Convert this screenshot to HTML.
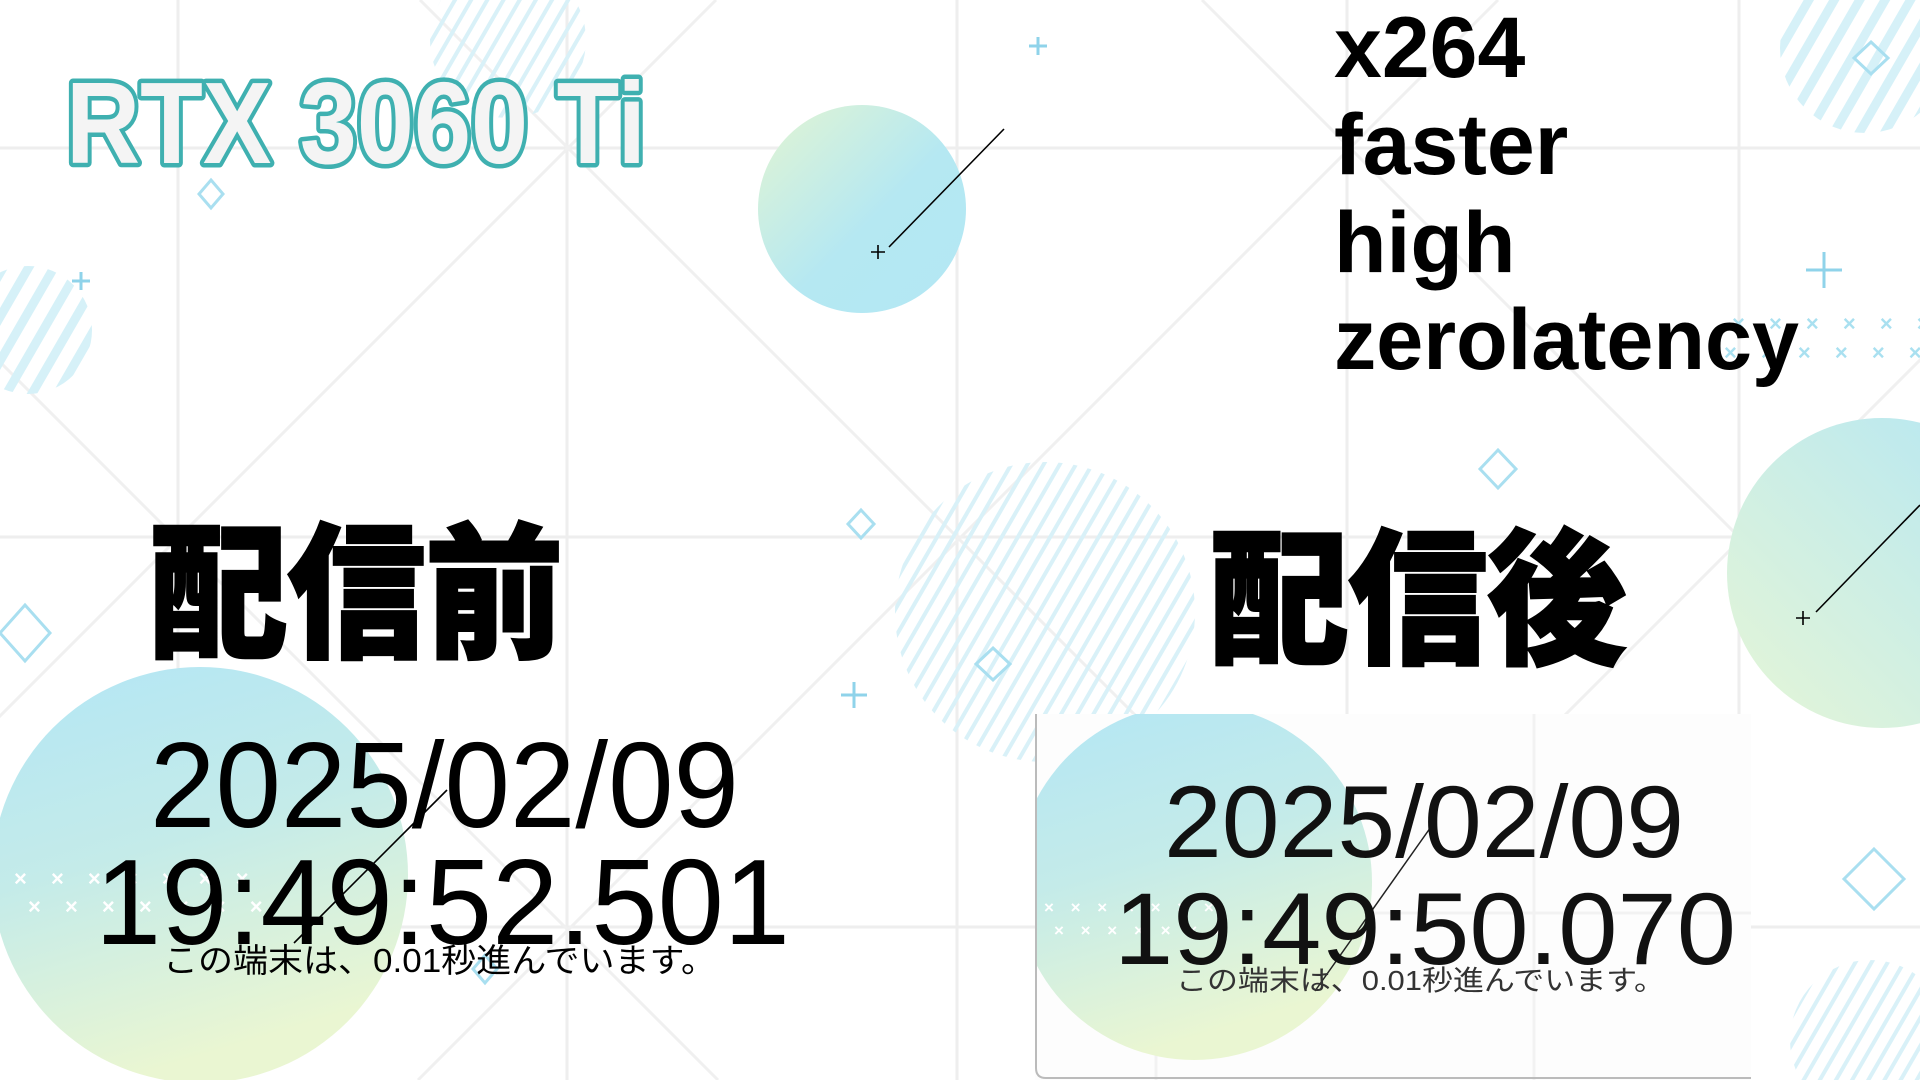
<!DOCTYPE html>
<html><head><meta charset="utf-8"><style>
html,body{margin:0;padding:0;background:#fff;width:1920px;height:1080px;overflow:hidden}
svg{display:block}
</style></head><body>
<svg width="1920" height="1080" viewBox="0 0 1920 1080">
<defs>
<linearGradient id="g1" x1="0" y1="0" x2="1" y2="1"><stop offset="0" stop-color="#e3f5d2"/><stop offset="0.55" stop-color="#b5e8f2"/><stop offset="1" stop-color="#b3e7f4"/></linearGradient>
<linearGradient id="g2" x1="0" y1="0" x2="0.3" y2="1"><stop offset="0" stop-color="#b3e6f5"/><stop offset="0.5" stop-color="#c4ebe9"/><stop offset="1" stop-color="#eaf6d2"/></linearGradient>
<linearGradient id="g3" x1="1" y1="0" x2="0" y2="1"><stop offset="0" stop-color="#b3e6f4"/><stop offset="1" stop-color="#e6f6d6"/></linearGradient>
<pattern id="hatch" width="22" height="22" patternUnits="userSpaceOnUse" patternTransform="rotate(30)"><rect width="9" height="22" fill="#d6f1f8"/></pattern>
<pattern id="hatch2" width="14" height="14" patternUnits="userSpaceOnUse" patternTransform="rotate(30)"><rect width="4" height="14" fill="#d9f1f8"/></pattern>
<clipPath id="panelclip"><rect x="1035" y="714" width="716" height="366"/></clipPath>
</defs>
<rect width="1920" height="1080" fill="#fff"/>
<g stroke="#eeeeee" stroke-width="3">
<line x1="178" y1="0" x2="178" y2="1080"/><line x1="567" y1="0" x2="567" y2="1080"/><line x1="957" y1="0" x2="957" y2="1080"/><line x1="1347" y1="0" x2="1347" y2="1080"/><line x1="1739" y1="0" x2="1739" y2="1080"/>
<line x1="0" y1="148" x2="1920" y2="148"/><line x1="0" y1="537" x2="1920" y2="537"/><line x1="0" y1="927" x2="1920" y2="927"/>
</g>
<g stroke="#f0f0f0" stroke-width="3">
<line x1="-362" y1="0" x2="718" y2="1080"/><line x1="420" y1="0" x2="1500" y2="1080"/><line x1="1202" y1="0" x2="2282" y2="1080"/><line x1="-1144" y1="0" x2="-64" y2="1080"/><line x1="1984" y1="0" x2="3064" y2="1080"/>
<line x1="716" y1="0" x2="-364" y2="1080"/><line x1="1498" y1="0" x2="418" y2="1080"/><line x1="2280" y1="0" x2="1200" y2="1080"/><line x1="3062" y1="0" x2="1982" y2="1080"/>
</g>
<g>
<circle cx="508" cy="40" r="78" fill="url(#hatch2)"/>
<circle cx="28" cy="330" r="64" fill="url(#hatch)"/>
<circle cx="1045" cy="612" r="150" fill="url(#hatch2)"/>
<circle cx="1865" cy="48" r="85" fill="url(#hatch)"/>
<circle cx="1870" cy="1040" r="80" fill="url(#hatch2)"/>
</g>
<circle cx="862" cy="209" r="104" fill="url(#g1)"/>
<circle cx="200" cy="875" r="208" fill="url(#g2)"/>
<circle cx="1882" cy="573" r="155" fill="url(#g3)"/>
<g fill="none" stroke="#a9dff0" stroke-width="3">
<path d="M211 180 l12 14 -12 14 -12 -14z"/><path d="M861 510 l13 14 -13 14 -13 -14z"/><path d="M993 648 l17 16 -17 16 -17 -16z"/><path d="M1498 450 l18 19 -18 19 -18 -19z"/><path d="M1871 42 l17 16 -17 16 -17 -16z"/><path d="M25 605 l25 28 -25 28 -25 -28z"/><path d="M1874 849 l30 30 -30 30 -30 -30z"/><path d="M485 955 l12 14 -12 14 -12 -14z"/>
</g>
<g stroke="#8fd3ea" stroke-width="3">
<path d="M1038 37 v18 M1029 46 h18"/><path d="M81 272 v18 M72 281 h18"/><path d="M854 682 v26 M841 695 h26"/><path d="M1824 252 v36 M1806 270 h36"/>
</g>
<g fill="#ffffff" font-family="Liberation Sans, sans-serif" font-size="22" font-weight="bold">
<text x="14" y="886" letter-spacing="9">× × × × × × ×</text><text x="28" y="914" letter-spacing="9">× × × × × × ×</text>
</g>
<g fill="#a9e0f0" font-family="Liberation Sans, sans-serif" font-size="22" font-weight="bold">
<text x="1732" y="331" letter-spacing="9">× × × × × ×</text><text x="1724" y="360" letter-spacing="9">× × × × × × ×</text>
</g>
<g stroke="#000" stroke-width="1.6" fill="none">
<path d="M889 247 L1004 129"/><path d="M871 252 h14 M878 245 v14"/>
<path d="M1816 612 L1920 505"/><path d="M1796 618 h14 M1803 611 v14"/>
<path d="M294 943 L447 790"/>
</g>
<text x="66" y="163" font-family="Liberation Sans, sans-serif" font-weight="bold" font-size="116" fill="#f4f4f4" stroke="#3fb0b0" stroke-width="9" stroke-linejoin="round" textLength="580" lengthAdjust="spacingAndGlyphs" paint-order="stroke">RTX 3060 Ti</text>
<g font-family="Liberation Sans, sans-serif" font-weight="bold" font-size="86" fill="#000">
<text x="1334" y="77">x264</text>
<text x="1334" y="174">faster</text>
<text x="1334" y="272">high</text>
<text x="1334" y="369" textLength="465" lengthAdjust="spacingAndGlyphs">zerolatency</text>
</g>
<text x="150" y="646" font-family="Noto Sans CJK JP, sans-serif" font-weight="900" font-size="146" fill="#000" stroke="#000" stroke-width="3" stroke-linejoin="miter" textLength="413" lengthAdjust="spacingAndGlyphs">配信前</text>
<text x="1210" y="652" font-family="Noto Sans CJK JP, sans-serif" font-weight="900" font-size="146" fill="#000" stroke="#000" stroke-width="3" stroke-linejoin="miter" textLength="416" lengthAdjust="spacingAndGlyphs">配信後</text>
<g font-family="Liberation Sans, sans-serif" fill="#000">
<text x="150" y="827" font-size="122" textLength="589" lengthAdjust="spacingAndGlyphs">2025/02/09</text>
<text x="95" y="944" font-size="122" textLength="695" lengthAdjust="spacingAndGlyphs">19:49:52.501</text>
<text x="163" y="972" font-family="Liberation Sans, Noto Sans CJK JP, sans-serif" font-size="33" textLength="553" lengthAdjust="spacingAndGlyphs">この端末は、0.01秒進んでいます。</text>
</g>
<g>
<g clip-path="url(#panelclip)">
<rect x="1035" y="714" width="716" height="366" fill="#fdfdfd"/>
<g stroke="#f2f2f2" stroke-width="3"><line x1="1156" y1="714" x2="1156" y2="1080"/><line x1="1534" y1="714" x2="1534" y2="1080"/><line x1="1035" y1="913" x2="1751" y2="913"/></g>
<circle cx="1194" cy="882" r="178" fill="url(#g2)"/>
<g fill="#fff" font-family="Liberation Sans, sans-serif" font-size="17" font-weight="bold"><text x="1044" y="913" letter-spacing="6">× × × × × × ×</text><text x="1054" y="936" letter-spacing="6">× × × × × × ×</text></g>
<path d="M1315 991 L1433 824" stroke="#222" stroke-width="1.5"/>
<g font-family="Liberation Sans, sans-serif" fill="#111">
<text x="1164" y="857" font-size="102" textLength="520" lengthAdjust="spacingAndGlyphs">2025/02/09</text>
<text x="1114" y="964" font-size="102" textLength="622" lengthAdjust="spacingAndGlyphs">19:49:50.070</text>
<text x="1176" y="990" font-family="Liberation Sans, Noto Sans CJK JP, sans-serif" font-size="28" fill="#333" textLength="489" lengthAdjust="spacingAndGlyphs">この端末は、0.01秒進んでいます。</text>
</g>
</g>
<path d="M1036 714 V1068 Q1036 1078 1046 1078 H1751" fill="none" stroke="#bbb" stroke-width="2"/>
</g>
</svg>
</body></html>
